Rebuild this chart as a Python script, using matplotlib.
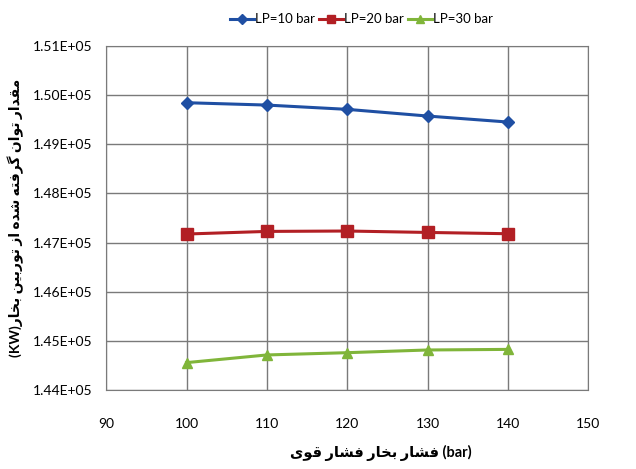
import matplotlib
matplotlib.use("Agg")
import matplotlib.pyplot as plt

plt.rcParams['font.family'] = ['Lato', 'DejaVu Sans']

# data
X = [100, 110, 120, 130, 140]
LP10 = [149846, 149798, 149711, 149575, 149453]
LP20 = [147176, 147229, 147237, 147208, 147182]
LP30 = [144561, 144717, 144763, 144818, 144830]

series_labels = ["LP=10 bar", "LP=20 bar", "LP=30 bar"]
xlabel_fa = "فشار بخار فشار قوی"
ylabel_fa = "مقدار توان گرفته شده از توربین بخار"

# simple arabic/persian shaping (isolated, final, initial, medial)
FORMS = {
    'ا': ('\uFE8D', '\uFE8E', None, None),
    'ب': ('\uFE8F', '\uFE90', '\uFE91', '\uFE92'),
    'ت': ('\uFE95', '\uFE96', '\uFE97', '\uFE98'),
    'خ': ('\uFEA5', '\uFEA6', '\uFEA7', '\uFEA8'),
    'د': ('\uFEA9', '\uFEAA', None, None),
    'ر': ('\uFEAD', '\uFEAE', None, None),
    'ز': ('\uFEAF', '\uFEB0', None, None),
    'ش': ('\uFEB5', '\uFEB6', '\uFEB7', '\uFEB8'),
    'ف': ('\uFED1', '\uFED2', '\uFED3', '\uFED4'),
    'ق': ('\uFED5', '\uFED6', '\uFED7', '\uFED8'),
    'م': ('\uFEE1', '\uFEE2', '\uFEE3', '\uFEE4'),
    'ن': ('\uFEE5', '\uFEE6', '\uFEE7', '\uFEE8'),
    'ه': ('\uFEE9', '\uFEEA', '\uFEEB', '\uFEEC'),
    'و': ('\uFEED', '\uFEEE', None, None),
    'گ': ('\uFB92', '\uFB93', '\uFB94', '\uFB95'),
    'ی': ('\uFBFC', '\uFBFD', '\uFBFE', '\uFBFF'),
}


def shape(text):
    out = []
    for i, ch in enumerate(text):
        if ch not in FORMS:
            out.append(ch)
            continue
        prev = text[i - 1] if i > 0 else ''
        nxt = text[i + 1] if i + 1 < len(text) else ''
        jp = prev in FORMS and FORMS[prev][2] is not None
        jn = FORMS[ch][2] is not None and nxt in FORMS
        f = FORMS[ch]
        if jp and jn:
            out.append(f[3])
        elif jp:
            out.append(f[1])
        elif jn:
            out.append(f[2])
        else:
            out.append(f[0])
    return ''.join(out)[::-1]


fig, ax = plt.subplots(figsize=(6.36, 4.69), dpi=100)
fig.subplots_adjust(left=0.167, right=0.925, bottom=0.168, top=0.902)

ax.plot(X, LP10, color="#1f4fa3", lw=2.2, marker="D", ms=6, label=series_labels[0])
ax.plot(X, LP20, color="#b21f24", lw=2.2, marker="s", ms=8, label=series_labels[1])
ax.plot(X, LP30, color="#80b53a", lw=2.2, marker="^", ms=7, label=series_labels[2])

ax.set_xlim(90, 150)
ax.set_ylim(144000, 151000)
ax.set_xticks(range(90, 151, 10))
ax.set_yticks(range(144000, 151001, 1000))
ax.set_yticklabels([f"{v / 1e5:.2f}E+05" for v in range(144000, 151001, 1000)])
ax.tick_params(axis='y', length=0, labelsize=10, pad=10)
ax.tick_params(axis='x', length=0, labelsize=10, pad=20)

ax.grid(True, color="#7a7a7a", lw=1)
ax.set_axisbelow(True)
for s in ax.spines.values():
    s.set_color("#7a7a7a")

ax.set_xlabel(shape(xlabel_fa) + " (bar)", fontsize=10.5, fontweight="bold")
ax.xaxis.set_label_coords(0.57, -0.16)
ax.set_ylabel("(KW)" + shape(ylabel_fa), fontsize=10, fontweight="bold", labelpad=6)

ax.legend(loc="lower center", bbox_to_anchor=(0.53, 1.025), ncol=3, frameon=False,
          fontsize=9.5, handlelength=1.8, columnspacing=0.3, handletextpad=0.1,
          markerscale=0.8)

plt.savefig("out.png")
